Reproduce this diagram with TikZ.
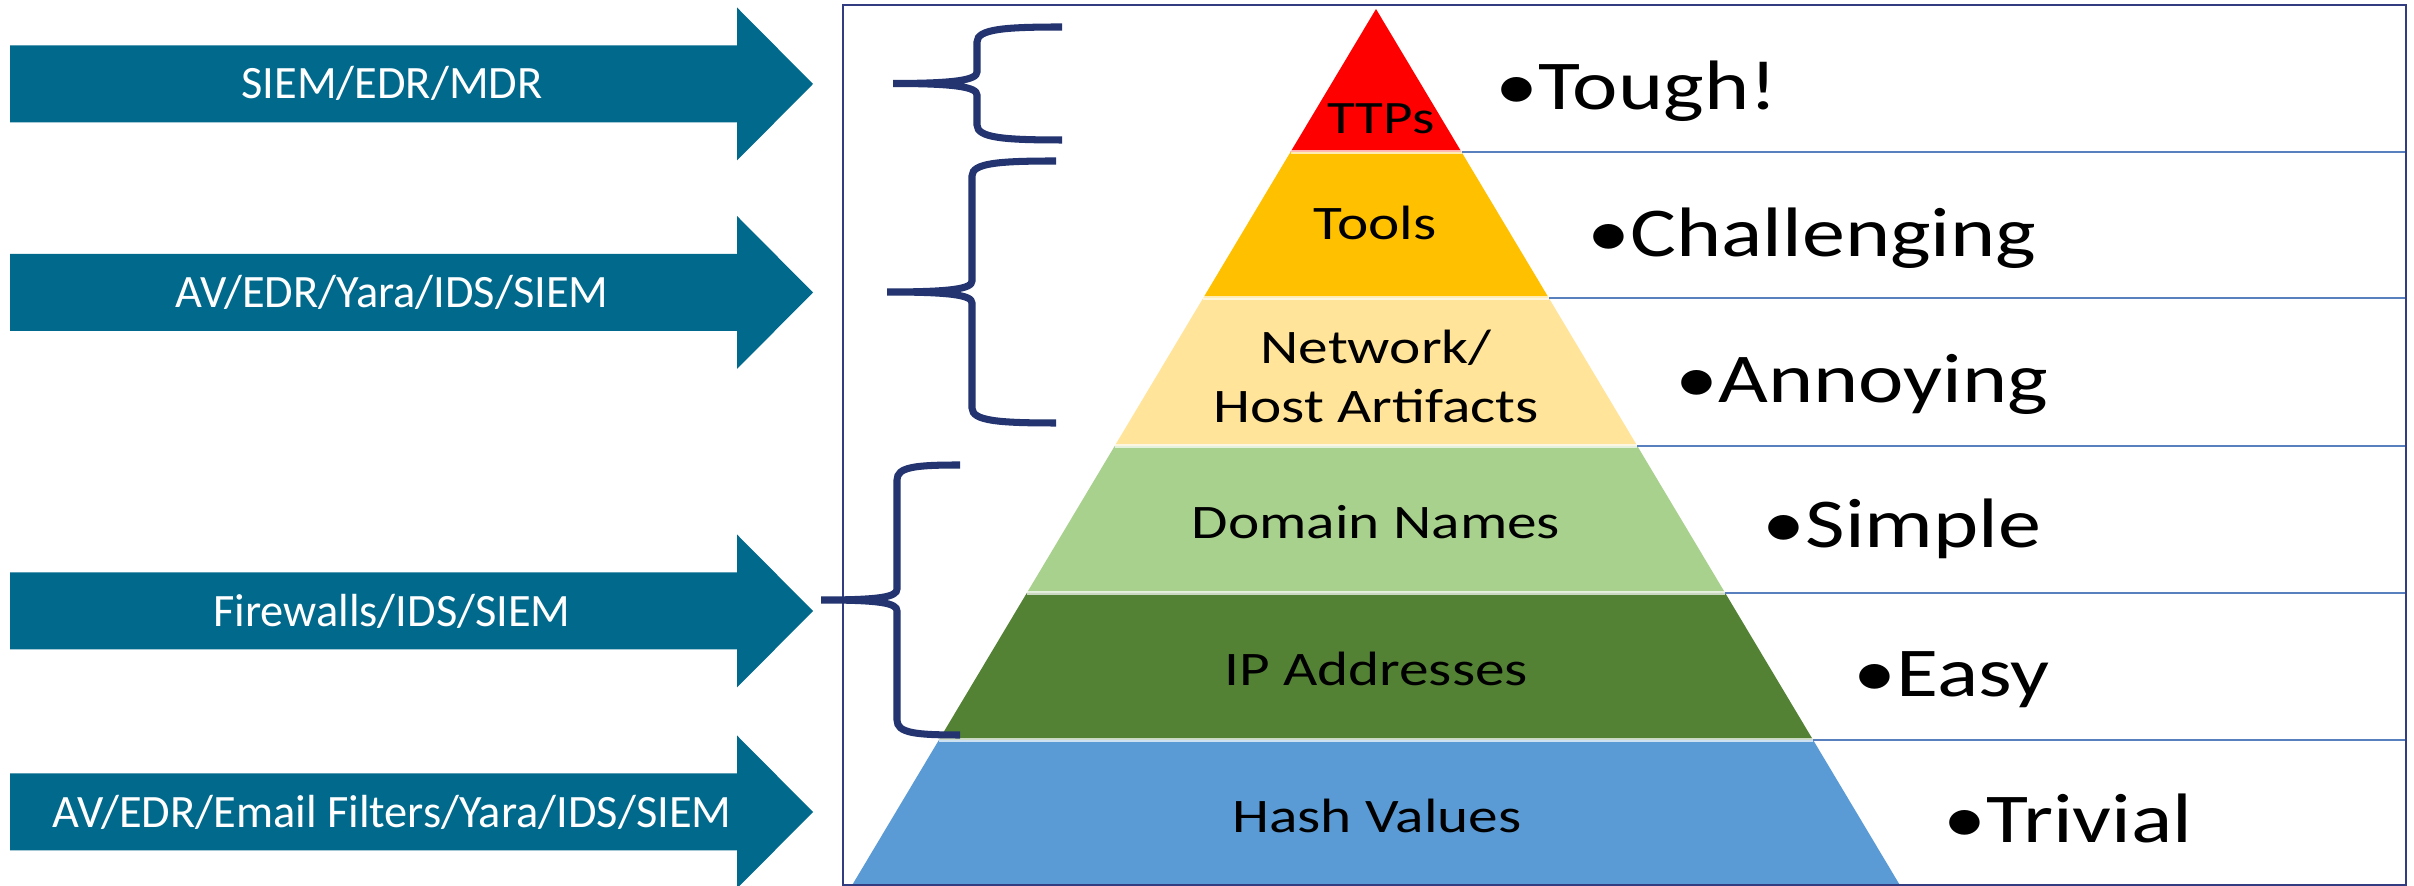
\documentclass[tikz,border=0pt]{standalone}
\usepackage{fontspec}
\setmainfont{Carlito}
\usepackage{graphicx}
\usepackage{xcolor}
\usepackage{tikz}
\usetikzlibrary{positioning, calc}
\definecolor{ArrowTeal}{RGB}{0, 105, 140}
\definecolor{BraceNavy}{RGB}{35, 52, 112}
\definecolor{FrameNavy}{RGB}{50, 60, 128}
\definecolor{TTPRed}{RGB}{255, 0, 0}
\definecolor{ToolGold}{RGB}{255, 192, 0}
\definecolor{ArtifactSand}{RGB}{255, 228, 153}
\definecolor{DomainGreen}{RGB}{169, 209, 142}
\definecolor{IPGreen}{RGB}{84, 130, 53}
\definecolor{HashBlue}{RGB}{91, 155, 213}
\definecolor{RowLine}{RGB}{88, 128, 190}
\newcommand{\wide}[1]{\scalebox{1.23}[1]{#1}}
\tikzset{
  toolarrow/.style={fill=ArrowTeal},
  tooltext/.style={anchor=base, inner sep=0pt, text=white,
    font=\fontsize{13.2pt}{15.8pt}\selectfont},
  pyrlabel/.style={anchor=base, inner sep=0pt, text=black,
    font=\fontsize{13.7pt}{16.4pt}\selectfont},
  level/.style={anchor=base west, inner sep=0pt, text=black,
    font=\fontsize{19.9pt}{23.9pt}\selectfont},
  bracket/.style={draw=BraceNavy, line width=2pt},
  rowline/.style={draw=RowLine, line width=0.6pt},
  layersep/.style={draw=white, opacity=0.7, line width=0.9pt},
  frame/.style={draw=FrameNavy, line width=0.7pt},
}

\begin{document}
\begin{tikzpicture}[x=0.01cm, y=-0.01cm]
  \useasboundingbox[fill=white] (0,0) rectangle (2414,886);
  % tool arrows
  \fill[toolarrow] (10,45.5) -- (737,45.5) -- (737,7.5) -- (813,84)
    -- (737,160.5) -- (737,122.5) -- (10,122.5) -- cycle;
  \fill[toolarrow] (10,254) -- (737,254) -- (737,216) -- (813,292.5)
    -- (737,369) -- (737,331) -- (10,331) -- cycle;
  \fill[toolarrow] (10,572.5) -- (737,572.5) -- (737,534.5) -- (813,611)
    -- (737,687.5) -- (737,649.5) -- (10,649.5) -- cycle;
  \fill[toolarrow] (10,773.5) -- (737,773.5) -- (737,735.5) -- (813,812)
    -- (737,888.5) -- (737,850.5) -- (10,850.5) -- cycle;
  \node[tooltext] (t1) at (392,99) {SIEM/EDR/MDR};
  \node[tooltext] (t2) at (392,308) {AV/EDR/Yara/IDS/SIEM};
  \node[tooltext] (t3) at (392,627) {Firewalls/IDS/SIEM};
  \node[tooltext] (t4) at (392,828) {AV/EDR/Email Filters/Yara/IDS/SIEM};

  % pyramid layers
  \fill[TTPRed] (1376,9) -- (1461.5,152) -- (1290.5,152) -- cycle;
  \fill[ToolGold] (1290.5,152) -- (1461.5,152) -- (1548.8,298)
    -- (1203.2,298) -- cycle;
  \fill[ArtifactSand] (1203.2,298) -- (1548.8,298) -- (1637.3,446)
    -- (1114.7,446) -- cycle;
  \fill[DomainGreen] (1114.7,446) -- (1637.3,446) -- (1725.2,593)
    -- (1026.8,593) -- cycle;
  \fill[IPGreen] (1026.8,593) -- (1725.2,593) -- (1813.1,740)
    -- (938.9,740) -- cycle;
  \fill[HashBlue] (938.9,740) -- (1813.1,740) -- (1899.8,885)
    -- (852.2,885) -- cycle;
  \draw[layersep] (1290.5,152) -- (1461.5,152);
  \draw[layersep] (1203.2,298) -- (1548.8,298);
  \draw[layersep] (1114.7,446) -- (1637.3,446);
  \draw[layersep] (1026.8,593) -- (1725.2,593);
  \draw[layersep] (938.9,740) -- (1813.1,740);

  % rows on the right
  \draw[rowline] (1461.5,152) -- (2406,152);
  \draw[rowline] (1548.8,298) -- (2406,298);
  \draw[rowline] (1637.3,446) -- (2406,446);
  \draw[rowline] (1725.2,593) -- (2406,593);
  \draw[rowline] (1813.1,740) -- (2406,740);
  \draw[frame] (843,5) rectangle (2406,885);

  % layer names
  \node[pyrlabel, font=\fontsize{13.2pt}{15.8pt}\selectfont] (ttp) at (1381,134) {\wide{TTPs}};
  \node[pyrlabel] (tools) at (1375,240) {\wide{Tools}};
  \node[pyrlabel] (net) at (1376,364) {\wide{Network/}};
  \node[pyrlabel] (host) at (1376,423) {\wide{Host Artifacts}};
  \node[pyrlabel] (domains) at (1376,539) {\wide{Domain Names}};
  \node[pyrlabel] (ips) at (1376,686) {\wide{IP Addresses}};
  \node[pyrlabel] (hashes) at (1377,833) {\wide{Hash Values}};

  % pain levels
  \node[level] (tough) at (1495,110) {\wide{•Tough!}};
  \node[level] (challenging) at (1587,257) {\wide{•Challenging}};
  \node[level] (annoying) at (1675,403) {\wide{•Annoying}};
  \node[level] (simple) at (1762,548) {\wide{•Simple}};
  \node[level] (easy) at (1853,697) {\wide{•Easy}};
  \node[level] (trivial) at (1943,843) {\wide{•Trivial}};

  % braces
  \draw[bracket] (1062,27) .. controls (1005,27) and (977,29) .. (977,42)
    -- (977,72) .. controls (977,80) and (955,83.5) .. (893,83.5)
    .. controls (955,83.5) and (977,87) .. (977,95)
    -- (977,125) .. controls (977,138) and (1005,140) .. (1062,140);
  \draw[bracket] (1056,161) .. controls (999,161) and (972,163) .. (972,176)
    -- (972,281) .. controls (972,289) and (950,292) .. (887,292)
    .. controls (950,292) and (972,295) .. (972,303)
    -- (972,408) .. controls (972,421) and (999,423) .. (1056,423);
  \draw[bracket] (960,465) .. controls (915,465) and (897,467) .. (897,480)
    -- (897,589) .. controls (897,597) and (880,600) .. (821,600)
    .. controls (880,600) and (897,603) .. (897,611)
    -- (897,720) .. controls (897,733) and (915,735) .. (960,735);
\end{tikzpicture}
\end{document}
